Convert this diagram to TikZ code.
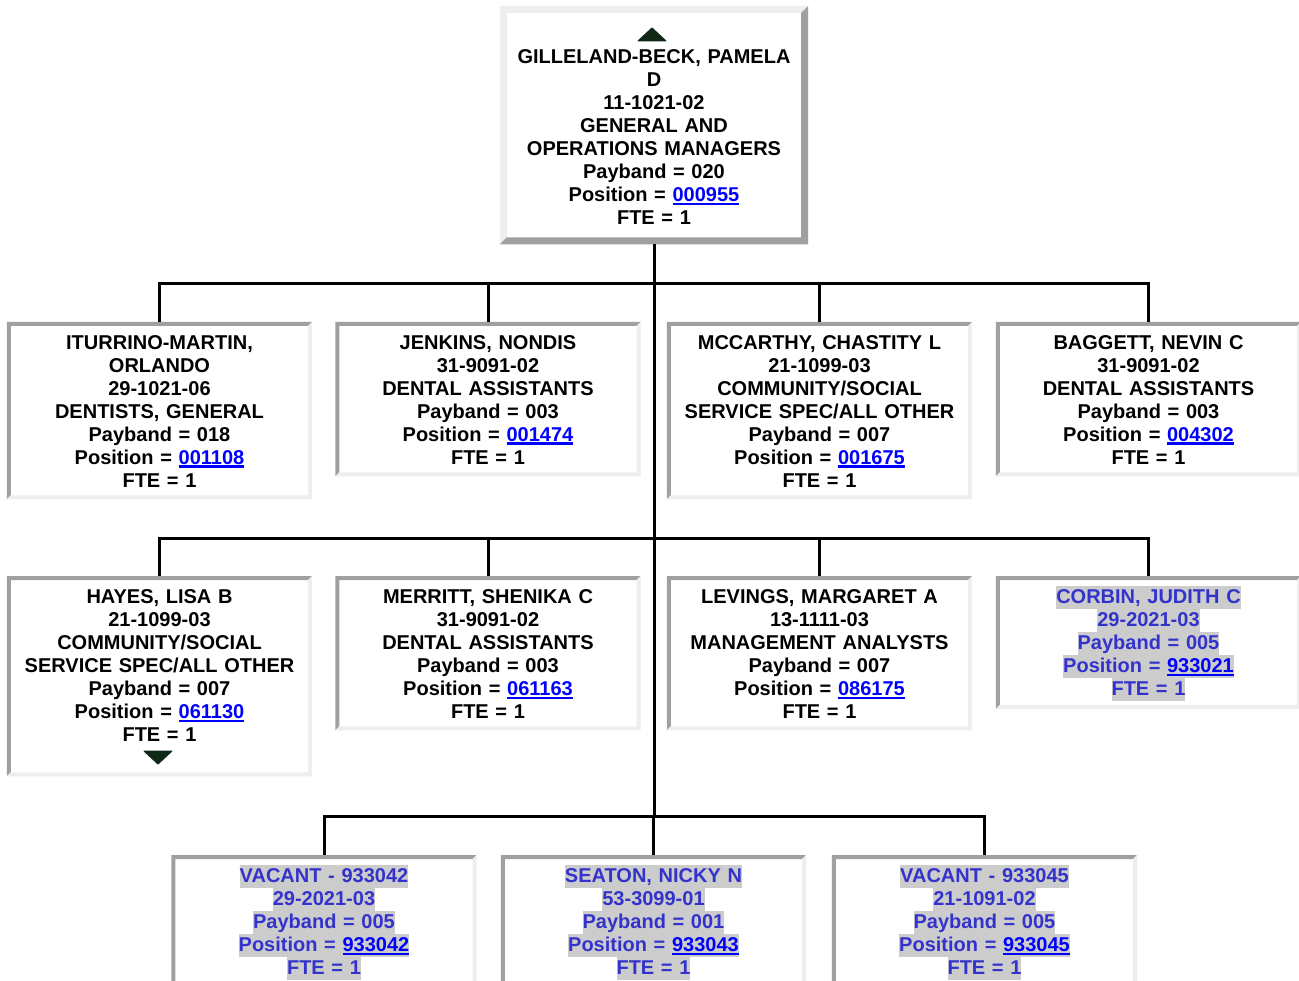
\documentclass[tikz,border=0pt]{standalone}
\usepackage{fontspec}
\setmainfont{Liberation Sans}
\usetikzlibrary{calc}
\definecolor{dk}{RGB}{160,160,160}
\definecolor{lt}{RGB}{238,238,238}
\definecolor{hlgray}{RGB}{204,204,204}
\definecolor{vacblue}{RGB}{51,51,204}
\definecolor{linkblue}{RGB}{0,0,255}
\definecolor{tri}{RGB}{16,40,22}
\setlength\fboxsep{0pt}
\newcommand\boxfont{\bfseries\fontsize{20}{23}\selectfont\lineskiplimit=-100pt\relax}
\newcommand\ls{\rule[-4pt]{0pt}{23pt}}
\newcommand\hl[1]{\colorbox{hlgray}{\rule[-5.5pt]{0pt}{23pt}#1}}
\newcommand\lk[1]{\textcolor{linkblue}{\setbox0\hbox{#1}\rlap{\rule[-3.5pt]{\wd0}{2.2pt}}\box0}}
\newcommand\insetbdr[1]{%
 \fill[dk] (#1.south west) -- (#1.north west) -- (#1.north east) -- ($(#1.north east)+(-4,4)$) -- ($(#1.north west)+(4,4)$) -- ($(#1.south west)+(4,-4)$) -- cycle;
 \fill[lt] (#1.north east) -- (#1.south east) -- (#1.south west) -- ($(#1.south west)+(4,-4)$) -- ($(#1.south east)+(-4,-4)$) -- ($(#1.north east)+(-4,4)$) -- cycle;}
\newcommand\outsetbdr[1]{%
 \fill[lt] (#1.south west) -- (#1.north west) -- (#1.north east) -- ($(#1.north east)+(-7,7)$) -- ($(#1.north west)+(7,7)$) -- ($(#1.south west)+(7,-7)$) -- cycle;
 \fill[dk] (#1.north east) -- (#1.south east) -- (#1.south west) -- ($(#1.south west)+(7,-7)$) -- ($(#1.south east)+(-7,-7)$) -- ($(#1.north east)+(-7,7)$) -- cycle;}
\tikzset{
 chld/.style={anchor=north, fill=white, text width=289pt, inner xsep=8pt, inner ysep=8pt, align=center,
   font=\boxfont},
 vacbox/.style={chld, text=vacblue},
 topbox/.style={chld, text width=280pt, inner xsep=14pt, inner ysep=15.5pt},
 conn/.style={line width=3pt},
 trifill/.style={fill=tri, draw=tri, line width=1pt, line join=round}
}
\begin{document}
\begin{tikzpicture}[x=1pt,y=-1pt]
\useasboundingbox (0,0) rectangle (1299,981);
% top
\node[topbox] (top) at (654,6) {\ls\\
\ls GILLELAND-BECK, PAMELA\\ \ls D\\ \ls 11-1021-02\\ \ls GENERAL AND\\ \ls OPERATIONS MANAGERS\\ \ls Payband = 020\\ \ls Position = \lk{000955}\\ \ls FTE = 1};
\outsetbdr{top}
\fill[trifill] ($(top.north)+(-2,22)$) -- ($(top.north)+(-16,35)$) -- ($(top.north)+(12,35)$) -- cycle;
% row 1
\node[chld] (r11) at (159.5,322) {\ls ITURRINO-MARTIN,\\ \ls ORLANDO\\ \ls 29-1021-06\\ \ls DENTISTS, GENERAL\\ \ls Payband = 018\\ \ls Position = \lk{001108}\\ \ls FTE = 1};
\node[chld] (r12) at (488,322) {\ls JENKINS, NONDIS\\ \ls 31-9091-02\\ \ls DENTAL ASSISTANTS\\ \ls Payband = 003\\ \ls Position = \lk{001474}\\ \ls FTE = 1};
\node[chld] (r13) at (819.5,322) {\ls MCCARTHY, CHASTITY L\\ \ls 21-1099-03\\ \ls COMMUNITY/SOCIAL\\ \ls SERVICE SPEC/ALL OTHER\\ \ls Payband = 007\\ \ls Position = \lk{001675}\\ \ls FTE = 1};
\node[chld] (r14) at (1148.5,322) {\ls BAGGETT, NEVIN C\\ \ls 31-9091-02\\ \ls DENTAL ASSISTANTS\\ \ls Payband = 003\\ \ls Position = \lk{004302}\\ \ls FTE = 1};
% row 2
\node[chld] (r21) at (159.5,576) {\ls HAYES, LISA B\\ \ls 21-1099-03\\ \ls COMMUNITY/SOCIAL\\ \ls SERVICE SPEC/ALL OTHER\\ \ls Payband = 007\\ \ls Position = \lk{061130}\\ \ls FTE = 1\\ \ls};
\node[chld] (r22) at (488,576) {\ls MERRITT, SHENIKA C\\ \ls 31-9091-02\\ \ls DENTAL ASSISTANTS\\ \ls Payband = 003\\ \ls Position = \lk{061163}\\ \ls FTE = 1};
\node[chld] (r23) at (819.5,576) {\ls LEVINGS, MARGARET A\\ \ls 13-1111-03\\ \ls MANAGEMENT ANALYSTS\\ \ls Payband = 007\\ \ls Position = \lk{086175}\\ \ls FTE = 1};
\node[vacbox] (r24) at (1148.5,576) {\ls\hl{CORBIN, JUDITH C}\\ \ls\hl{29-2021-03}\\ \ls\hl{Payband = 005}\\ \ls\hl{Position = \lk{933021}}\\ \ls\hl{FTE = 1}};
% row 3
\node[vacbox] (r31) at (324,855) {\ls\hl{VACANT - 933042}\\ \ls\hl{29-2021-03}\\ \ls\hl{Payband = 005}\\ \ls\hl{Position = \lk{933042}}\\ \ls\hl{FTE = 1}};
\node[vacbox] (r32) at (653.5,855) {\ls\hl{SEATON, NICKY N}\\ \ls\hl{53-3099-01}\\ \ls\hl{Payband = 001}\\ \ls\hl{Position = \lk{933043}}\\ \ls\hl{FTE = 1}};
\node[vacbox] (r33) at (984.5,855) {\ls\hl{VACANT - 933045}\\ \ls\hl{21-1091-02}\\ \ls\hl{Payband = 005}\\ \ls\hl{Position = \lk{933045}}\\ \ls\hl{FTE = 1}};
\foreach \n in {r11,r12,r13,r14,r21,r22,r23,r24,r31,r32,r33} {\insetbdr{\n}}
\fill[trifill] ($(r21.north)+(-1.5,188)$) -- ($(r21.north)+(-15.5,175)$) -- ($(r21.north)+(12.5,175)$) -- cycle;
% connectors
\coordinate (j1) at (654,284);
\coordinate (j2) at (654,538);
\coordinate (j3) at (654,816);
\draw[conn] (top.south) -- (j3);
\foreach \n in {r11,r12,r13,r14} {\draw[conn] (j1) -| (\n.north);}
\foreach \n in {r21,r22,r23,r24} {\draw[conn] (j2) -| (\n.north);}
\foreach \n in {r31,r32,r33} {\draw[conn] (j3) -| (\n.north);}
\end{tikzpicture}
\end{document}
